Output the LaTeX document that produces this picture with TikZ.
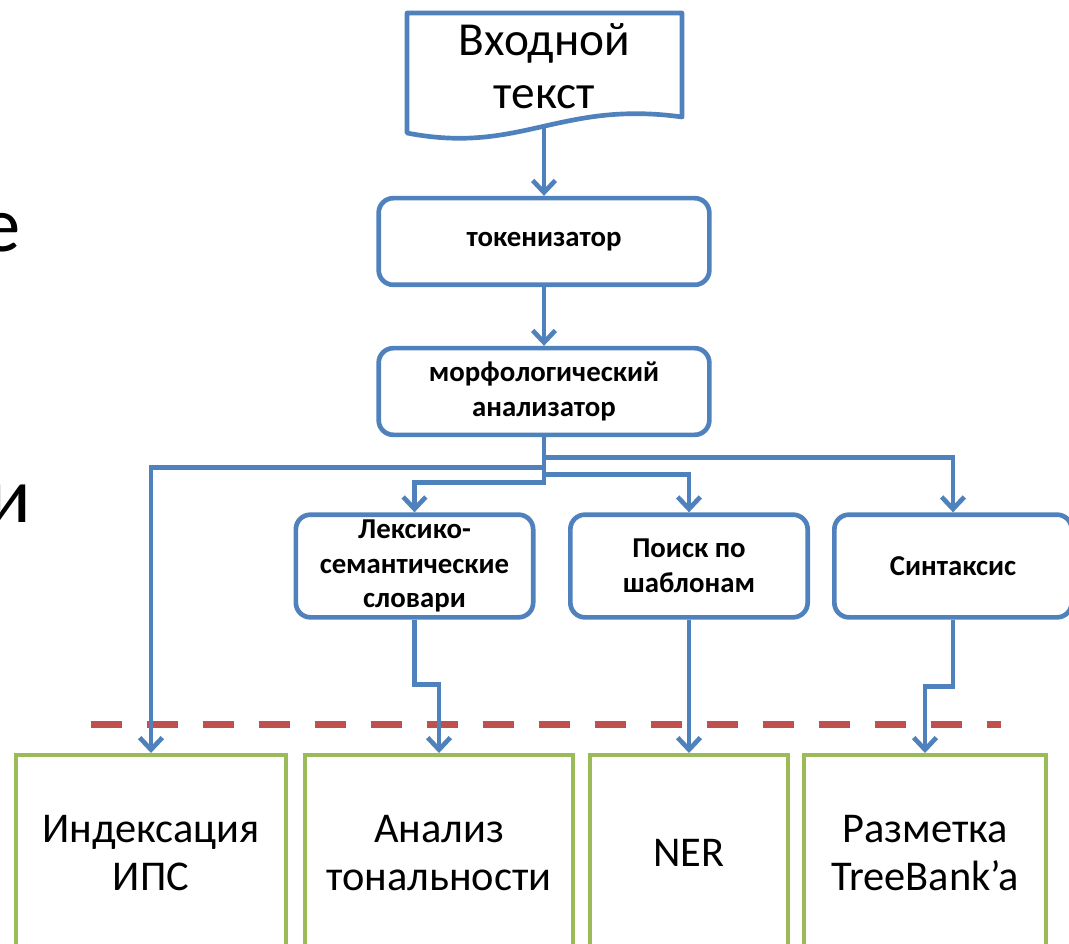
\documentclass[tikz,border=0pt]{standalone}
\usepackage{fontspec}
\setmainfont{Carlito}
\usetikzlibrary{positioning}
\usetikzlibrary{calc}
\usetikzlibrary{arrows.meta}
\definecolor{blue}{RGB}{79,129,189}
\definecolor{red}{RGB}{192,80,77}
\definecolor{green}{RGB}{155,187,89}
\newcommand{\bigtext}{\fontsize{35.5}{40}\selectfont}
\newcommand{\stagetext}{\fontsize{21.6}{26}\selectfont\bfseries}
\newcommand{\tasktext}{\fontsize{31.8}{36}\selectfont}
\newcommand{\sidetext}{\fontsize{59}{70}\selectfont}

\begin{document}
\begin{tikzpicture}[
    x=0.75pt, y=-0.75pt,
    stage/.style={draw=blue, line width=3.5pt, rounded corners=11pt, fill=white, align=center, font=\stagetext, inner sep=0pt},
    task/.style={draw=green, line width=3.2pt, align=center, font=\tasktext, anchor=north, inner sep=0pt},
    link/.style={->, draw=blue, line width=3.5pt},
    >={Straight Barb[length=9pt,width=17pt]}
]
    \useasboundingbox (0,0) rectangle (1069,944);

    % slide text cut off at the left
    \node[font=\sidetext, anchor=base east, inner sep=0pt] (frage) at (21,252) {е};
    \node[font=\sidetext, anchor=base east, inner sep=0pt] (fragi) at (31,522) {и};

    % input document
    \draw[blue, line width=3.5pt, line join=round] (407,13) -- (682,13) -- (682,117)
        .. controls (560,100) and (520,155) .. (407,133) -- cycle;
    \node[font=\bigtext, align=center, inner sep=0pt] (input) at (544.5,66) {Входной\\текст};
    \coordinate (inputbot) at (544,128);

    \node[stage, minimum width=248pt, minimum height=65pt] (tok) at (544,241.5) {токенизатор};
    \node[stage, minimum width=248pt, minimum height=65pt] (morph) at (544,391.5) {морфологический\\анализатор};

    \node[stage, minimum width=178pt, minimum height=77pt] (lex) at (414.5,566) {Лексико-\\семантические\\словари};
    \node[stage, minimum width=178pt, minimum height=77pt] (search) at (689,566) {Поиск по\\шаблонам};
    \node[stage, minimum width=178pt, minimum height=77pt] (syn) at (953,566) {Синтаксис};

    \node[task, minimum width=203pt, minimum height=147pt] (idx) at (151,753) {Индексация\\ИПС};
    \node[task, minimum width=201pt, minimum height=147pt] (anal) at (439,753) {Анализ\\тональности};
    \node[task, minimum width=148pt, minimum height=147pt] (ner) at (689,753) {NER};
    \node[task, minimum width=181pt, minimum height=147pt] (tree) at (925,753) {Разметка\\TreeBank’a};

    \draw[red, line width=5.25pt, dash pattern=on 23.25pt off 18.75pt] (91,724) -- (1001,724);

    \draw[link] (inputbot) -- (tok.north);
    \draw[link] (tok) -- (morph);

    \draw[link] (morph.south) -- ++(0,20) -| (syn.north);
    \draw[link] (morph.south) -- ++(0,30) -| (idx.north);
    \draw[link] (morph.south) -- ++(0,37) -| (search.north);
    \draw[link] (morph.south) -- ++(0,45) -| (lex.north);

    \draw[link] (lex.south) -- ++(0,65) -| (anal.north);
    \draw[link] (search) -- (ner);
    \draw[link] (syn.south) -- ++(0,67) -| (tree.north);
\end{tikzpicture}
\end{document}
